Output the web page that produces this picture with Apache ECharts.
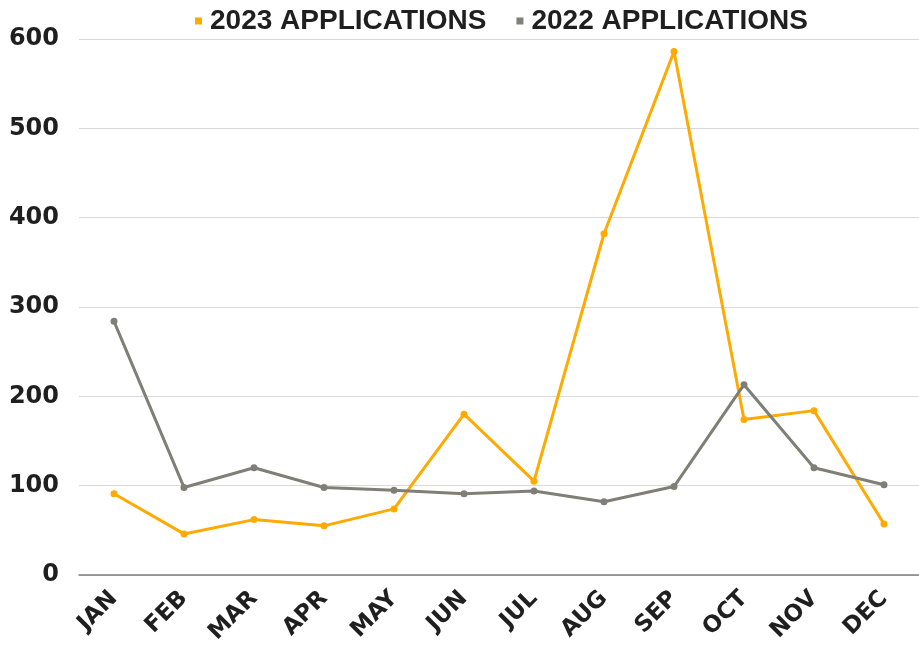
<!DOCTYPE html>
<html>
<head>
<meta charset="utf-8">
<script src="https://cdn.jsdelivr.net/npm/echarts@6/dist/echarts.min.js"></script>
<style>html,body{margin:0;padding:0;background:#fff}#c{width:919px;height:653px}</style>
</head>
<body>
<div id="c"></div>
<script>
const months = ['JAN','FEB','MAR','APR','MAY','JUN','JUL','AUG','SEP','OCT','NOV','DEC'];
const apps2023 = [91, 46, 62, 55, 74, 180, 105, 382, 586, 174, 184, 57];
const apps2022 = [284, 98, 120, 98, 95, 91, 94, 82, 99, 213, 120, 101];
const seriesNames = ['2023 APPLICATIONS', '2022 APPLICATIONS'];
const yTicks = [0, 100, 200, 300, 400, 500, 600];

const chart = echarts.init(document.getElementById('c'), null, {renderer: 'canvas'});
const axisFont = {fontFamily: 'DejaVu Sans', fontWeight: 'bold', color: '#1f1f1f'};
chart.setOption({
  animation: false,
  backgroundColor: '#ffffff',
  legend: {
    top: 2, left: 190,
    itemWidth: 7, itemHeight: 7, itemGap: 30,
    icon: 'rect',
    textStyle: {fontFamily: 'Liberation Sans', fontWeight: 'bold', fontSize: 28, color: '#1f1f1f', padding: [0, 0, 0, 3]},
    data: seriesNames
  },
  grid: {left: 79, right: -9, top: 39, bottom: 78, containLabel: false},
  xAxis: {
    type: 'category', data: months, boundaryGap: true,
    axisLine: {show: true, lineStyle: {color: '#7f7f7f', width: 1.5}},
    axisTick: {show: false},
    axisLabel: Object.assign({rotate: 45, fontSize: 23, margin: 20, interval: 0}, axisFont)
  },
  yAxis: {
    type: 'value', min: yTicks[0], max: yTicks[yTicks.length - 1], interval: 100,
    axisLine: {show: false}, axisTick: {show: false},
    axisLabel: Object.assign({fontSize: 24, margin: 20}, axisFont),
    splitLine: {lineStyle: {color: '#d9d9d9', width: 1}}
  },
  series: [
    {name: seriesNames[0], type: 'line', data: apps2023, symbol: 'circle', symbolSize: 7,
      itemStyle: {color: '#FFAA00'}, lineStyle: {color: '#FFAA00', width: 3}},
    {name: seriesNames[1], type: 'line', data: apps2022, symbol: 'circle', symbolSize: 7,
      itemStyle: {color: '#7F7F77'}, lineStyle: {color: '#7F7F77', width: 3}}
  ]
});
</script>
</body>
</html>
